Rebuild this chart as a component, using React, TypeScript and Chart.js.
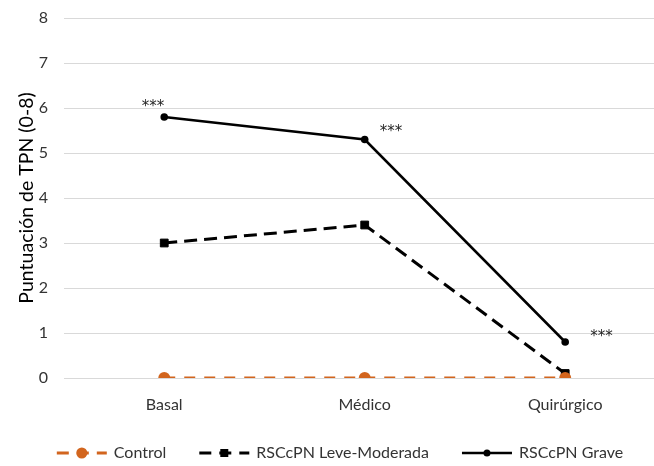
import { useEffect, useRef } from "react";
import { Chart, registerables } from "chart.js";

Chart.register(...registerables);

// Categories and series values
const categories = ["Basal", "Médico", "Quirúrgico"];
const controlValues = [0, 0, 0];
const leveValues = [3.0, 3.4, 0.1];
const graveValues = [5.8, 5.3, 0.8];
const graveMarks = ["***", "***", "***"];
const yTickValues = [0, 1, 2, 3, 4, 5, 6, 7, 8];

const ORANGE = "#D2651E";
const BLACK = "#000000";
const FONT = "Lato, 'Open Sans', sans-serif";
const TEXT = "#333333";

// Pixel nudges for the significance labels beside each "Grave" point
const markOffsets = [
  { dx: 0, dy: -14, align: "right" as CanvasTextAlign },
  { dx: 15, dy: -12, align: "left" as CanvasTextAlign },
  { dx: 25, dy: -9, align: "left" as CanvasTextAlign },
];

const legendItems = [
  { label: "Control", color: ORANGE, dash: [12, 8], style: "circle", r: 5.5, width: 3 },
  { label: "RSCcPN Leve-Moderada", color: BLACK, dash: [12, 8], style: "rect", r: 4, width: 3 },
  { label: "RSCcPN Grave", color: BLACK, dash: [], style: "circle", r: 3.5, width: 2.5 },
];

const toPoints = (vals: number[]) => vals.map((y, i) => ({ x: i, y }));

const marksPlugin = {
  id: "significanceMarks",
  afterDatasetsDraw(chart: any) {
    const meta = chart.getDatasetMeta(2);
    const ctx = chart.ctx;
    ctx.save();
    ctx.font = `15px 'DejaVu Sans', sans-serif`;
    ctx.fillStyle = "#262626";
    ctx.textBaseline = "alphabetic";
    meta.data.forEach((pt: any, i: number) => {
      const o = markOffsets[i];
      ctx.textAlign = o.align;
      ctx.fillText(graveMarks[i], pt.x + o.dx, pt.y + o.dy + 8);
    });
    ctx.restore();
  },
};

const legendPlugin = {
  id: "lineLegend",
  afterDraw(chart: any) {
    const ctx = chart.ctx;
    const lineLen = 50;
    const textGap = 7;
    const itemGap = 33;
    const y = 453;
    ctx.save();
    ctx.font = `16px ${FONT}`;
    const widths = legendItems.map((it) => lineLen + textGap + ctx.measureText(it.label).width);
    const total = widths.reduce((a, b) => a + b, 0) + itemGap * (legendItems.length - 1);
    let x = 340 - total / 2;
    legendItems.forEach((it, i) => {
      ctx.strokeStyle = it.color;
      ctx.lineWidth = it.width;
      ctx.setLineDash(it.dash);
      ctx.beginPath();
      ctx.moveTo(x, y);
      ctx.lineTo(x + lineLen, y);
      ctx.stroke();
      ctx.setLineDash([]);
      ctx.fillStyle = it.color;
      const cx = x + lineLen / 2;
      ctx.beginPath();
      if (it.style === "circle") {
        ctx.arc(cx, y, it.r, 0, Math.PI * 2);
      } else {
        ctx.rect(cx - it.r, y - it.r, it.r * 2, it.r * 2);
      }
      ctx.fill();
      ctx.fillStyle = TEXT;
      ctx.textAlign = "left";
      ctx.textBaseline = "middle";
      ctx.fillText(it.label, x + lineLen + textGap, y);
      x += widths[i] + itemGap;
    });
    ctx.restore();
  },
};

export default function App() {
  const ref = useRef<HTMLCanvasElement>(null);

  useEffect(() => {
    if (!ref.current) return;
    const chart = new Chart(ref.current, {
      type: "line",
      data: {
        datasets: [
          {
            label: "Control",
            data: toPoints(controlValues),
            borderColor: ORANGE,
            backgroundColor: ORANGE,
            borderWidth: 3,
            borderDash: [11, 9],
            pointStyle: "circle",
            pointRadius: 6,
            pointBorderWidth: 0,
          },
          {
            label: "RSCcPN Leve-Moderada",
            data: toPoints(leveValues),
            borderColor: BLACK,
            backgroundColor: BLACK,
            borderWidth: 3,
            borderDash: [13, 7],
            pointStyle: "rect",
            pointRadius: 5.5,
            pointBorderWidth: 1,
          },
          {
            label: "RSCcPN Grave",
            data: toPoints(graveValues),
            borderColor: BLACK,
            backgroundColor: BLACK,
            borderWidth: 2.5,
            pointStyle: "circle",
            pointRadius: 3.8,
            pointBorderWidth: 0,
          },
        ],
      },
      options: {
        responsive: false,
        animation: false,
        layout: { autoPadding: false, padding: { top: 18, right: 0, left: 0, bottom: 0 } },
        plugins: {
          legend: { display: false },
          tooltip: { enabled: false },
        },
        scales: {
          x: {
            type: "linear",
            bounds: "data",
            min: -0.5,
            max: 2.443,
            afterBuildTicks: (s: any) => {
              s.ticks = categories.map((_, i) => ({ value: i }));
            },
            afterFit: (s: any) => {
              s.height = 88;
              s.paddingLeft = 0;
              s.paddingRight = 0;
            },
            ticks: {
              callback: (v: any) => categories[v as number] ?? "",
              font: { family: FONT, size: 16 },
              color: TEXT,
              padding: 17,
              maxRotation: 0,
            },
            grid: { display: false, drawTicks: false },
            border: { display: false },
          },
          y: {
            min: 0,
            max: 8,
            afterBuildTicks: (s: any) => {
              s.ticks = yTickValues.map((v) => ({ value: v }));
            },
            afterFit: (s: any) => {
              s.width = 64;
              s.paddingTop = 0;
              s.paddingBottom = 0;
            },
            ticks: {
              font: { family: FONT, size: 16 },
              color: TEXT,
              padding: 16,
            },
            grid: { color: "#d9d9d9", lineWidth: 1, drawTicks: false },
            border: { display: false },
            title: {
              display: true,
              text: "Puntuación de TPN (0-8)",
              font: { family: FONT, size: 19.5 },
              color: "#000000",
              padding: { top: 15, bottom: 0 },
            },
          },
        },
      },
      plugins: [marksPlugin, legendPlugin],
    });
    return () => chart.destroy();
  }, []);

  return (
    <div style={{ position: "fixed", left: 0, top: 0, width: 654, height: 466, background: "#fff" }}>
      <canvas ref={ref} width={654} height={466} />
    </div>
  );
}
